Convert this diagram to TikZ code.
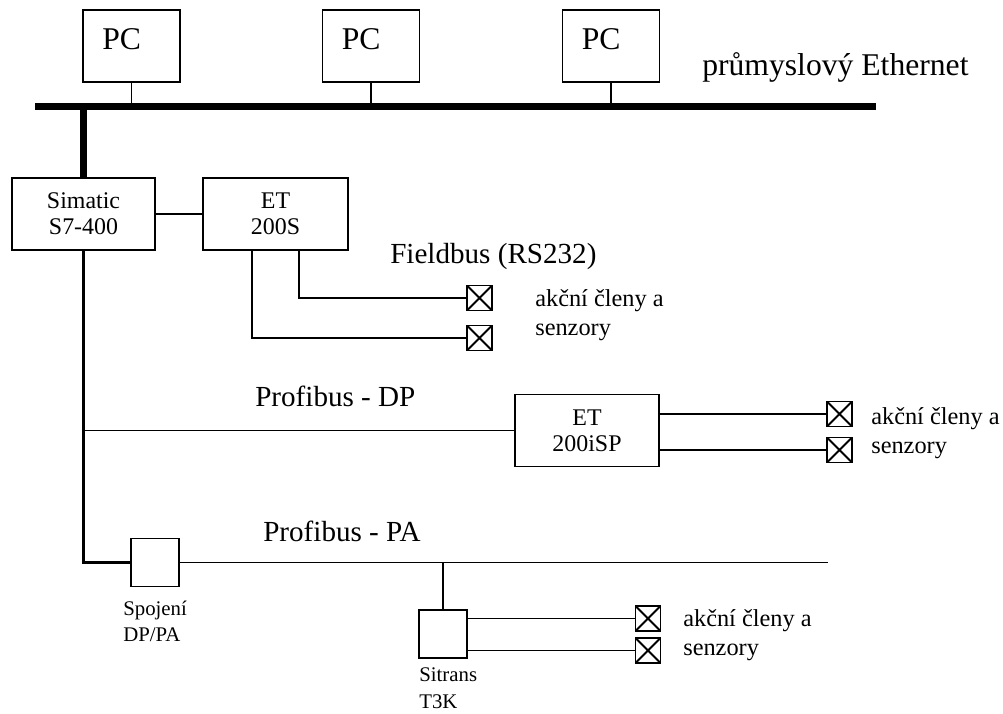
\documentclass[tikz,border=0pt]{standalone}
\usepackage{fontspec}
\setmainfont{Liberation Serif}
\usetikzlibrary{positioning}

\begin{document}
\begin{tikzpicture}[x=0.025cm,y=-0.025cm,
    box/.style={draw,line width=1.3pt,inner sep=0pt,align=center,minimum height=1.8cm,font=\fontsize{17}{18.5}\selectfont},
    pc/.style={draw,line width=1.3pt,inner sep=0pt,minimum width=2.425cm,minimum height=1.8cm,
      label={[anchor=base west,inner sep=0pt,xshift=0.5cm,yshift=-1.01cm,font=\fontsize{22.5}{24}\selectfont]north west:PC}},
    sq/.style={draw,line width=1.3pt,inner sep=0pt,minimum size=1.2cm},
    xbox/.style={draw,line width=1.3pt,inner sep=0pt,minimum size=0.625cm,
      path picture={\draw[line width=1.3pt] (path picture bounding box.north west) -- (path picture bounding box.south east)
        (path picture bounding box.south west) -- (path picture bounding box.north east);}},
    big/.style={anchor=base west,inner sep=0pt,font=\fontsize{22.5}{24}\selectfont},
    bus/.style={anchor=base west,inner sep=0pt,font=\fontsize{20.7}{23}\selectfont},
    lbl/.style={anchor=base west,inner sep=0pt,align=left,font=\fontsize{17.3}{20}\selectfont},
    dev/.style={anchor=base west,inner sep=0pt,align=left,font=\fontsize{14.8}{19}\selectfont},
    wire/.style={line width=1.3pt}]
  \useasboundingbox (0,0) rectangle (1003,713);

  \node[pc] (pc1) at (131.5,46) {};
  \node[pc] (pc2) at (371,46) {};
  \node[pc] (pc3) at (611,46) {};
  \coordinate (busL) at (35,106.5);
  \coordinate (busR) at (876,106.5);
  \draw[line width=5pt] (busL) -- (busR);
  \foreach \p in {pc1,pc2,pc3} \draw[wire] (\p.south) -- (\p.south |- busL);
  \node[big] (eth) at (702,75) {průmyslový Ethernet};

  \node[box,minimum width=3.575cm] (simatic) at (83.5,214) {Simatic\\S7-400};
  \node[box,minimum width=3.625cm] (et200s) at (275.5,214) {ET\\200S};
  \draw[line width=4.3pt] (simatic.north) -- (simatic.north |- busL);
  \draw[wire] (simatic.east) -- (et200s.west);

  \node[bus] (fb) at (390,263) {Fieldbus (RS232)};
  \node[xbox] (xa1) at (479.5,298) {};
  \node[xbox] (xa2) at (479.5,338) {};
  \draw[wire] (xa1.west) -| ([xshift=0.5875cm]et200s.south);
  \draw[wire] (xa2.west) -| ([xshift=-0.5875cm]et200s.south);
  \node[lbl] (la) at (535,335) {akční členy a\\senzory};

  \node[sq] (spoj) at (155,562.5) {};
  \draw[line width=2.2pt] (simatic.south) -- (simatic.south |- spoj) -- (spoj.west);
  \node[dev] (lspoj) at (123,641.7) {Spojení\\DP/PA};

  \node[bus] (dp) at (255,406.7) {Profibus - DP};
  \node[box,minimum width=3.6cm] (etisp) at (587,430.5) {ET\\200iSP};
  \draw[wire] (etisp.west) -- (etisp.west -| simatic.south);
  \node[xbox] (xc1) at (839.5,414) {};
  \node[xbox] (xc2) at (839.5,450) {};
  \draw[wire] (xc1.west) -- (xc1.west -| etisp.east);
  \draw[wire] (xc2.west) -- (xc2.west -| etisp.east);
  \node[lbl] (lc) at (871,453) {akční členy a\\senzory};

  \node[bus] (pa) at (263,541.7) {Profibus - PA};
  \coordinate (paEnd) at (828,562.5);
  \draw[wire] (spoj.east) -- (paEnd);
  \node[sq] (sitrans) at (443,634) {};
  \draw[wire] (sitrans.north) -- (sitrans.north |- paEnd);
  \node[dev] (lsit) at (419,708) {Sitrans\\T3K};
  \node[xbox] (xb1) at (648,618.5) {};
  \node[xbox] (xb2) at (648,650.5) {};
  \draw[wire] (xb1.west) -- (xb1.west -| sitrans.east);
  \draw[wire] (xb2.west) -- (xb2.west -| sitrans.east);
  \node[lbl] (lb) at (683,655) {akční členy a\\senzory};
\end{tikzpicture}
\end{document}
